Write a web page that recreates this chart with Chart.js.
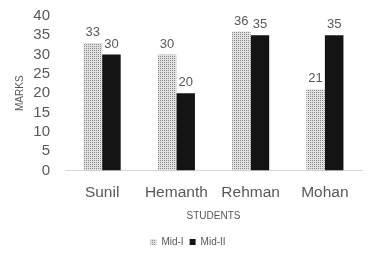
<!DOCTYPE html>
<html>
<head>
<meta charset="utf-8">
<script src="https://cdn.jsdelivr.net/npm/chart.js@4"></script>
<style>
  html, body { margin: 0; padding: 0; background: #fff; }
  #wrap { width: 369px; height: 271px; }
</style>
</head>
<body>
<div id="wrap"><canvas id="marksChart" width="369" height="271"></canvas></div>
<script>
const students = ['Sunil', 'Hemanth', 'Rehman', 'Mohan'];
const midOne = [33, 30, 36, 21];
const midTwo = [30, 20, 35, 35];
const yTicks = [0, 5, 10, 15, 20, 25, 30, 35, 40];

// dotted grey fill like the Excel pattern
function makePattern() {
    const p = document.createElement('canvas');
    p.width = 4;
    p.height = 4;
    const c = p.getContext('2d');
    c.fillStyle = '#e0e0e0';
    c.fillRect(0, 0, 4, 4);
    c.fillStyle = '#8c8c8c';
    c.fillRect(0, 0, 1, 1);
    c.fillRect(2, 2, 1, 1);
    c.fillRect(2, 0, 1, 1);
    c.fillRect(0, 2, 1, 1);
    return c.createPattern(p, 'repeat');
}

const ctx = document.getElementById('marksChart').getContext('2d');
const dotted = makePattern();

const valueLabels = {
    id: 'valueLabels',
    afterDatasetsDraw(chart) {
        const c = chart.ctx;
        c.save();
        c.font = '13px "Liberation Sans", Arial, sans-serif';
        c.fillStyle = '#595959';
        c.textAlign = 'center';
        c.textBaseline = 'bottom';
        chart.data.datasets.forEach((ds, i) => {
            chart.getDatasetMeta(i).data.forEach((bar, j) => {
                c.fillText(ds.data[j], bar.x, bar.y - 4);
            });
        });
        c.restore();
    }
};

new Chart(ctx, {
    type: 'bar',
    data: {
        labels: students,
        datasets: [
            { label: 'Mid-I', data: midOne, backgroundColor: dotted, borderWidth: 0 },
            { label: 'Mid-II', data: midTwo, backgroundColor: '#141414', borderWidth: 0 }
        ]
    },
    options: {
        responsive: false,
        animation: false,
        layout: { padding: { top: 10, right: 7, left: 14, bottom: 14 } },
        datasets: { bar: { categoryPercentage: 0.5, barPercentage: 1.0 } },
        plugins: {
            legend: {
                position: 'bottom',
                labels: {
                    color: '#595959',
                    font: { size: 10, family: '"Liberation Sans", Arial, sans-serif' },
                    boxWidth: 6,
                    boxHeight: 6,
                    padding: 6
                }
            },
            tooltip: { enabled: false }
        },
        scales: {
            x: {
                grid: { display: false },
                border: { color: '#d9d9d9' },
                ticks: {
                    autoSkip: false,
                    maxRotation: 0,
                    minRotation: 0,
                    color: '#595959',
                    font: { size: 15.5, family: '"Liberation Sans", Arial, sans-serif' },
                    padding: 5
                },
                title: {
                    display: true,
                    text: 'STUDENTS',
                    color: '#595959',
                    font: { size: 10, family: '"Liberation Sans", Arial, sans-serif' },
                    padding: { top: 3, bottom: 9 }
                }
            },
            y: {
                min: 0,
                max: 40,
                afterBuildTicks(axis) {
                    axis.ticks = yTicks.map(v => ({ value: v }));
                },
                afterFit(axis) {
                    axis.width = 51;
                },
                grid: { display: false },
                border: { display: false },
                ticks: {
                    autoSkip: false,
                    color: '#595959',
                    font: { size: 15, family: '"Liberation Sans", Arial, sans-serif' },
                    padding: 7
                },
                title: {
                    display: true,
                    text: 'MARKS',
                    color: '#595959',
                    font: { size: 10, family: '"Liberation Sans", Arial, sans-serif' },
                    padding: { top: 0, bottom: 6 }
                }
            }
        }
    },
    plugins: [valueLabels]
});
</script>
</body>
</html>
